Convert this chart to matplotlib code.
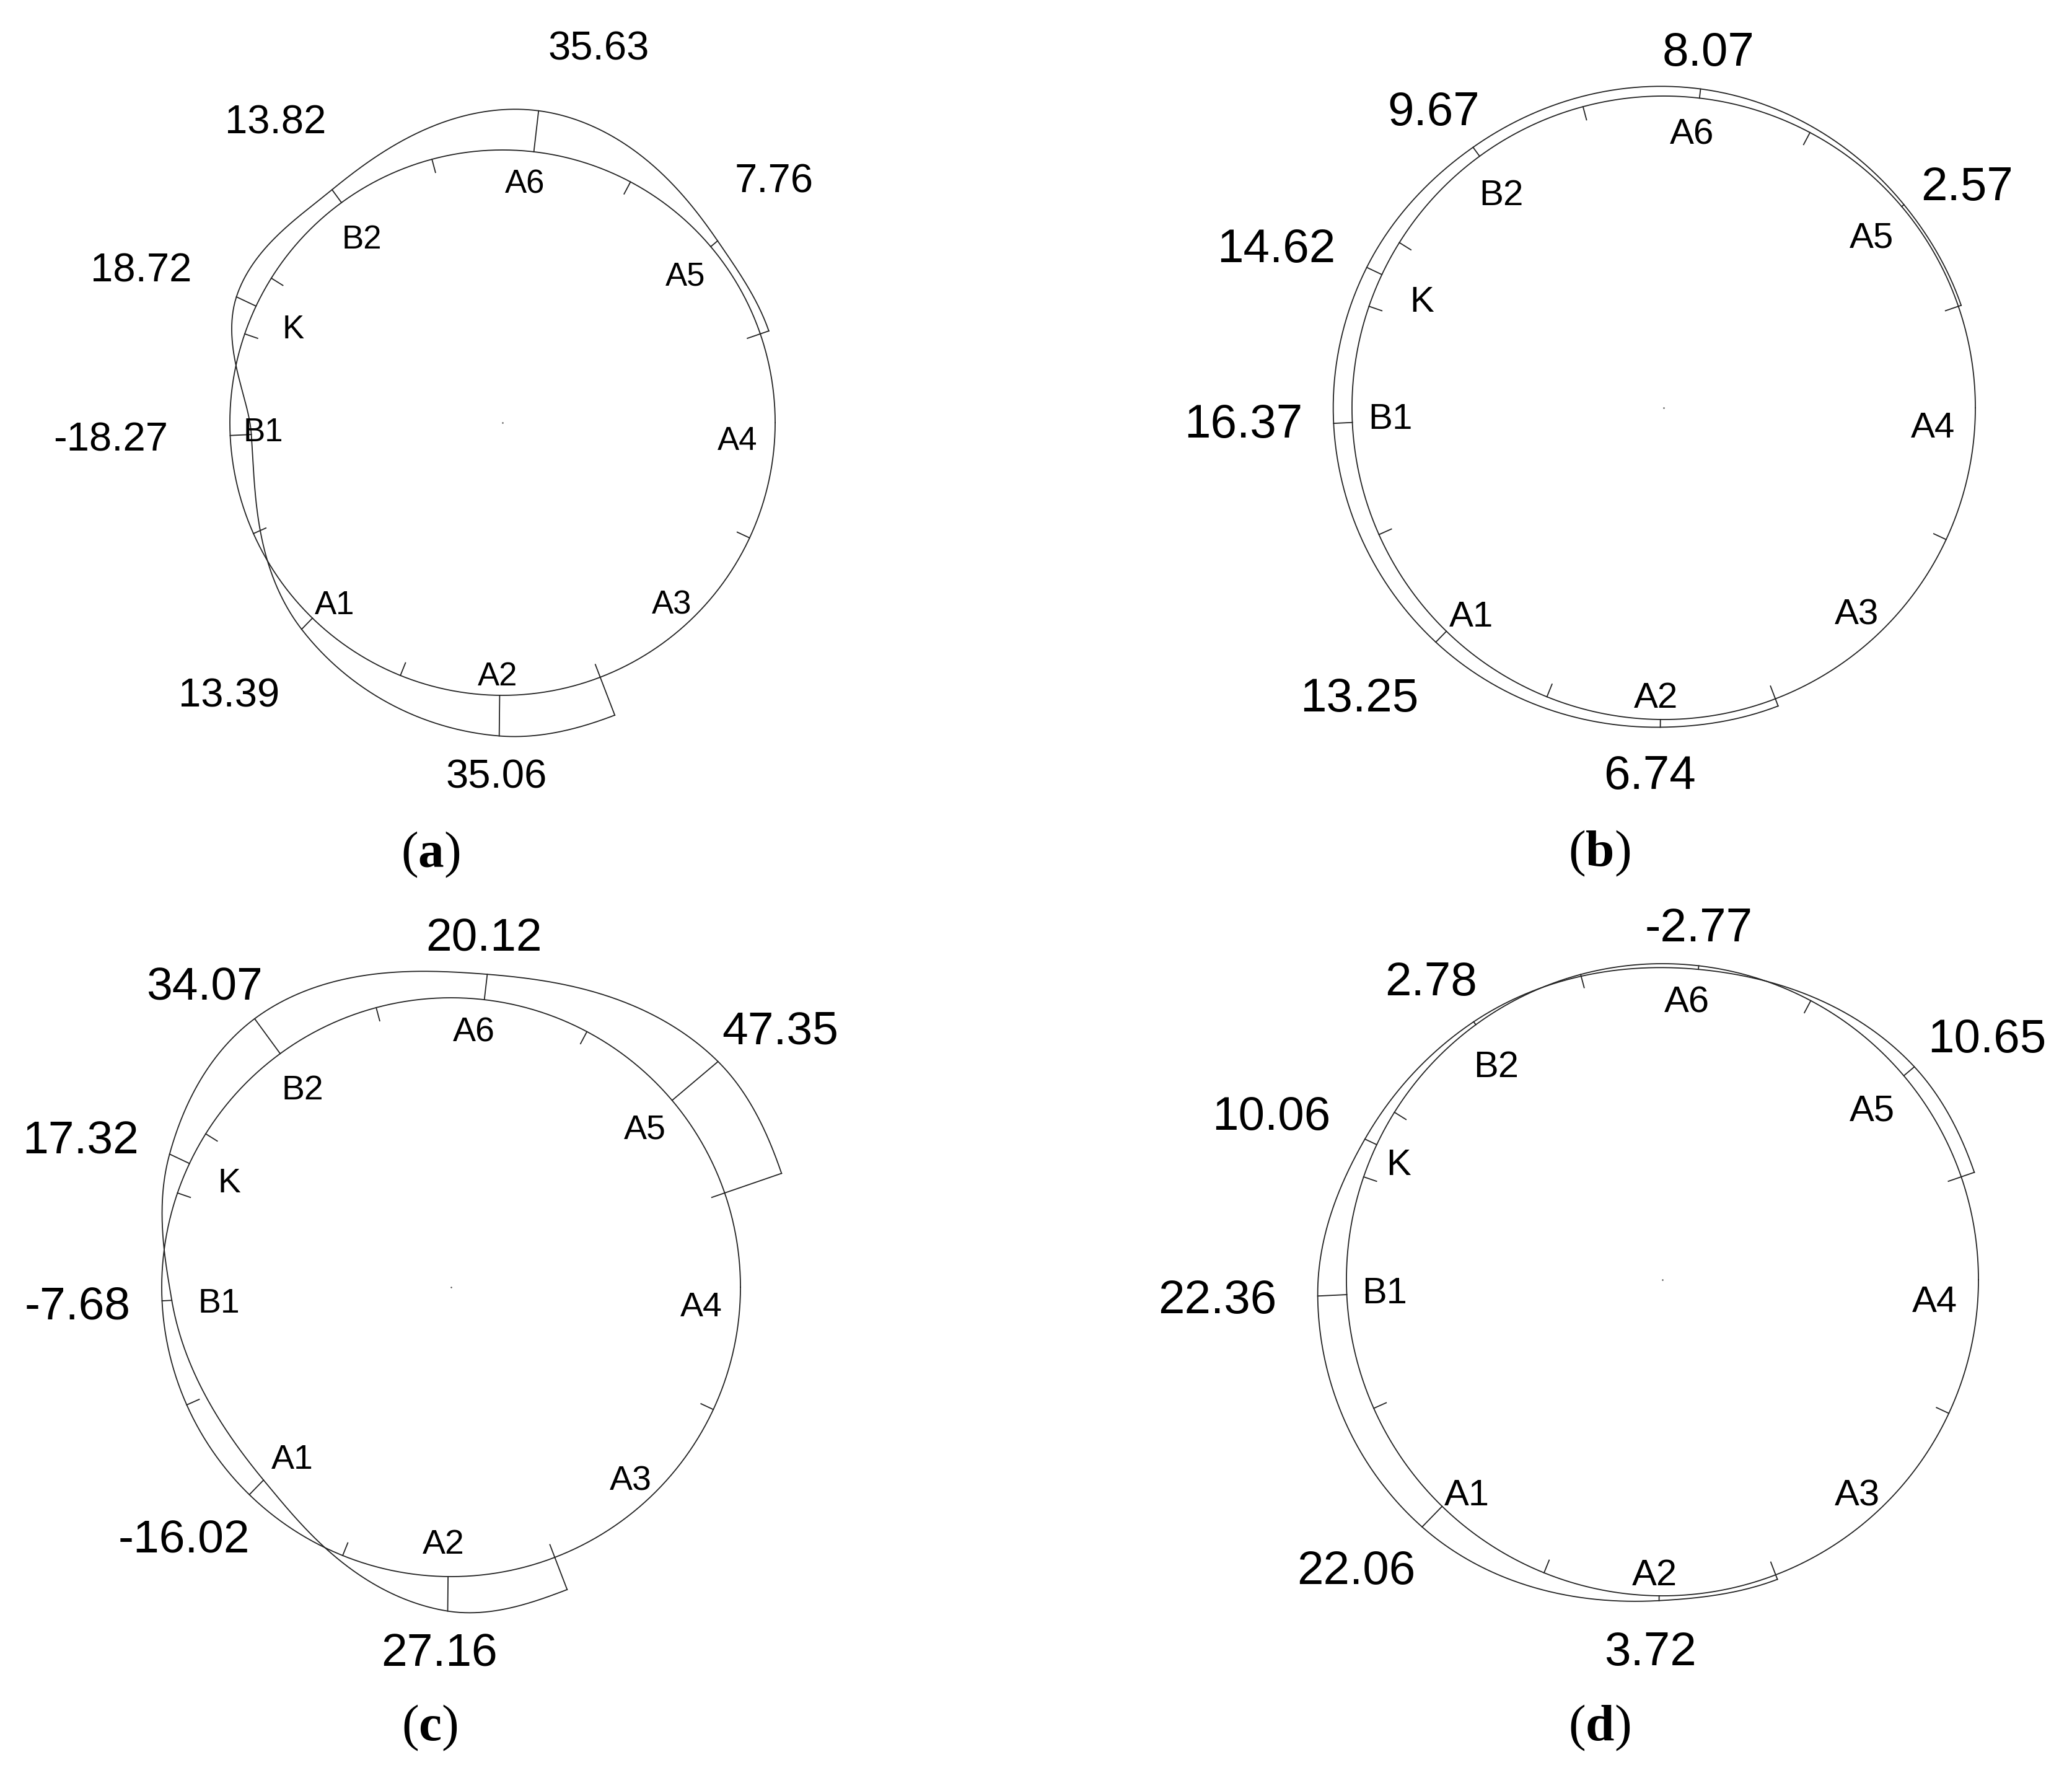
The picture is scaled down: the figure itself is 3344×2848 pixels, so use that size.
import numpy as np
import matplotlib
matplotlib.use('Agg')
import matplotlib.pyplot as plt

# ---------------- data ----------------
point_names = ['A2', 'A1', 'B1', 'K', 'B2', 'A6', 'A5']
point_angles = [269.4, 225.8, 182.7, 154.7, 126.2, 83.4, 40.2]   # degrees
values_a = [35.06, 13.39, -18.27, 18.72, 13.82, 35.63, 7.76]
values_b = [6.74, 13.25, 16.37, 14.62, 9.67, 8.07, 2.57]
values_c = [27.16, -16.02, -7.68, 17.32, 34.07, 20.12, 47.35]
values_d = [3.72, 22.06, 22.36, 10.06, 2.78, -2.77, 10.65]
span_angles = [291.0, 19.0]          # ends of the measured arc
tick_angles = [19, 62, 105, 148, 161, 204, 248, 291, 335]
station_labels = ['A1', 'A2', 'A3', 'A4', 'A5', 'A6', 'B1', 'B2', 'K']
panel_letters = ['a', 'b', 'c', 'd']

# ---------------- layout (pixels) ----------------
W, H, DPI = 3344, 2848, 100
panels = [
    dict(values=values_a, center=(811, 682), radius=440, scale=1.87, vfs=47, sfs=38,
         vpos=[(801, 1248), (370, 1117), (179, 704), (228, 431), (445, 192), (966, 73), (1249, 287)],
         spos=[(540, 972), (803, 1087), (1084, 972), (1190, 707), (1106, 442), (847, 293),
               (425, 693), (584, 382), (473, 527)],
         cap=(695, 1378)),
    dict(values=values_b, center=(2685, 658), radius=503, scale=1.85, vfs=55, sfs=42,
         vpos=[(2663, 1246), (2194, 1121), (2007, 679), (2060, 396), (2314, 175), (2757, 79), (3175, 296)],
         spos=[(2375, 990), (2673, 1121), (2997, 987), (3120, 685), (3021, 379), (2731, 212),
               (2244, 671), (2423, 310), (2295, 482)],
         cap=(2581, 1376)),
    dict(values=values_c, center=(728, 2077), radius=467, scale=2.05, vfs=54, sfs=40,
         vpos=[(709, 2662), (297, 2479), (125, 2102), (130, 1835), (330, 1587), (781, 1508), (1259, 1658)],
         spos=[(472, 2350), (716, 2487), (1018, 2385), (1132, 2104), (1041, 1818), (765, 1661),
               (353, 2098), (488, 1754), (370, 1904)],
         cap=(693, 2787)),
    dict(values=values_d, center=(2683, 2065), radius=510, scale=2.1, vfs=55, sfs=43,
         vpos=[(2663, 2660), (2189, 2529), (1965, 2092), (2052, 1796), (2310, 1579), (2742, 1492), (3207, 1671)],
         spos=[(2367, 2408), (2670, 2537), (2997, 2408), (3122, 2096), (3021, 1787), (2722, 1612),
               (2235, 2082), (2415, 1717), (2257, 1875)],
         cap=(2581, 2787)),
]

LW = 1.3
TICK = 22
SANS = ['Liberation Sans', 'DejaVu Sans']
plt.rcParams['mathtext.fontset'] = 'custom'
plt.rcParams['mathtext.rm'] = 'Liberation Serif'
plt.rcParams['mathtext.bf'] = 'Liberation Serif:bold'


def hermite_curve(t, v, tq):
    t = np.asarray(t, float)
    v = np.asarray(v, float)
    n = len(t)
    m = np.zeros(n)
    for i in range(1, n - 1):
        m[i] = (v[i + 1] - v[i - 1]) / (t[i + 1] - t[i - 1])
    out = np.empty_like(tq)
    for j, x in enumerate(tq):
        i = np.searchsorted(t, x) - 1
        i = min(max(i, 0), n - 2)
        h = t[i + 1] - t[i]
        s = (x - t[i]) / h
        h00 = 2 * s**3 - 3 * s**2 + 1
        h10 = s**3 - 2 * s**2 + s
        h01 = -2 * s**3 + 3 * s**2
        h11 = s**3 - s**2
        out[j] = h00 * v[i] + h10 * h * m[i] + h01 * v[i + 1] + h11 * h * m[i + 1]
    return out


def px(cx, cy, r, ang):
    a = np.radians(ang)
    return cx + r * np.cos(a), cy - r * np.sin(a)


fig = plt.figure(figsize=(W / DPI, H / DPI), dpi=DPI)
ax = fig.add_axes([0, 0, 1, 1])
ax.set_xlim(0, W)
ax.set_ylim(H, 0)
ax.axis('off')

for p, letter in zip(panels, panel_letters):
    cx, cy = p['center']
    r = p['radius']
    k = p['scale']
    vals = p['values']

    # base circle
    th = np.linspace(0, 360, 721)
    x, y = px(cx, cy, r, th)
    ax.plot(x, y, color='#222222', lw=LW)

    # ticks (inward)
    for ta in tick_angles:
        x0, y0 = px(cx, cy, r, ta)
        x1, y1 = px(cx, cy, r - TICK, ta)
        ax.plot([x0, x1], [y0, y1], color='#222222', lw=LW)

    # deformation curve
    t_nodes = [span_angles[1]] + point_angles[::-1] + [span_angles[0]]
    v_nodes = [vals[-1]] + list(vals[::-1]) + [vals[0]]
    tq = np.linspace(span_angles[1], span_angles[0], 600)
    vq = hermite_curve(t_nodes, v_nodes, tq)
    x, y = px(cx, cy, r + k * vq, tq)
    ax.plot(x, y, color='#222222', lw=LW)

    # radial connectors at data points and ends
    for ang, v in zip(t_nodes, v_nodes):
        x0, y0 = px(cx, cy, r, ang)
        x1, y1 = px(cx, cy, r + k * v, ang)
        ax.plot([x0, x1], [y0, y1], color='#222222', lw=LW)

    # centre dot
    ax.plot([cx], [cy], marker='.', ms=1.5, color='#444444')

    # value labels
    em = p['vfs'] * DPI / 72.0
    for v, (tx, ty) in zip(vals, p['vpos']):
        ax.text(tx, ty + 0.358 * em, f'{v:.2f}', ha='center', va='baseline',
                fontsize=p['vfs'], family=SANS, color='black')

    # station labels
    sfs = p['sfs']
    em_s = sfs * DPI / 72.0
    for name, (tx, ty) in zip(station_labels, p['spos']):
        ax.text(tx, ty + 0.358 * em_s, name, ha='center', va='baseline',
                fontsize=sfs, family=SANS, color='black')

    # caption
    cfs = 60
    em_c = cfs * DPI / 72.0
    ax.text(p['cap'][0], p['cap'][1] + 0.255 * em_c, r'$(\mathbf{' + letter + r'})$',
            ha='center', va='baseline', fontsize=cfs, color='black')

fig.savefig('out.png', dpi=DPI, facecolor='white')
